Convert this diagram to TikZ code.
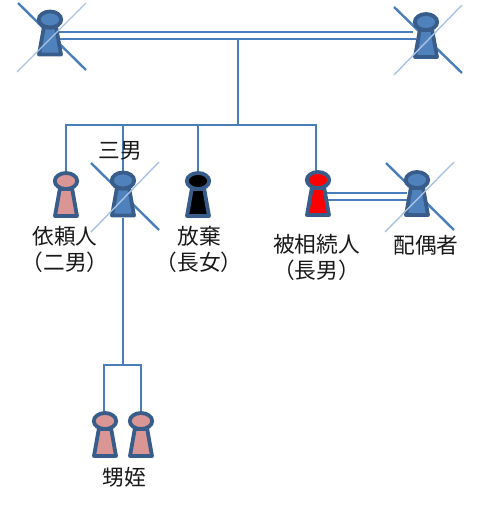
\documentclass[tikz,border=0pt]{standalone}
\usepackage{fontspec}
\setmainfont{Noto Sans CJK JP}
\definecolor{linkblue}{HTML}{4A7EBB}
\definecolor{strokeblue}{HTML}{385D8A}
\definecolor{fillblue}{HTML}{4F81BD}
\definecolor{lightcross}{HTML}{A7C2E4}
\definecolor{pinkfill}{HTML}{D99694}
\tikzset{
  link/.style={draw=linkblue,line width=2.4pt},
  crossdark/.style={draw=linkblue,line width=2.4pt},
  crosslight/.style={draw=lightcross,line width=1.4pt},
  label/.style={inner sep=0pt,font=\fontsize{21.7}{26}\selectfont,text=black!90,align=center},
  anchorbox/.style={minimum width=25pt,minimum height=46pt,inner sep=0pt,outer sep=0pt},
  pics/keyhole/.style={code={
    \draw[draw=strokeblue,fill=#1,line width=3.8pt,line join=round]
      (-6.2,-6) -- (6.2,-6) -- (11,21) -- (-11,21) -- cycle;
    \draw[draw=strokeblue,fill=#1,line width=3.8pt] (0,-14) ellipse (11.2pt and 8pt);
  }}
}
\begin{document}
\begin{tikzpicture}[x=1pt,y=-1pt]
\useasboundingbox (0,0) rectangle (492,507);
% person anchors
\node[anchorbox] (gf) at (50,33.5) {};
\node[anchorbox] (gm) at (426,36) {};
\node[anchorbox] (ch2) at (66,195) {};
\node[anchorbox] (ch3) at (123,194.5) {};
\node[anchorbox] (ch1) at (198,195) {};
\node[anchorbox] (dec) at (318,194) {};
\node[anchorbox] (sp) at (417,194) {};
\node[anchorbox] (ne) at (105,435) {};
\node[anchorbox] (ni) at (141,435) {};
% junctions
\coordinate (jtop) at (238,39);
\coordinate (jmid) at (238,125);
\coordinate (jl) at (66,125);
\coordinate (j3) at (123,125);
\coordinate (j1) at (198,123.5);
\coordinate (jr) at (316,125);
\coordinate (jn) at (123,365);
\coordinate (jnl) at (104,365);
\coordinate (jnr) at (141,365);
% connectors
\draw[link] (57,32) -- (413,32);
\draw[link] (60,39) -- (416,39);
\draw[link] (jtop) -- (jmid);
\draw[link] (jl |- 0,172) -- (jl) -- (jr) -- (jr |- 0,172);
\draw[link] (j3) -- (j3 |- 0,172);
\draw[link] (j1) -- (j1 |- 0,172);
\draw[link] (ch3.south) -- (jn);
\draw[link] (jnl |- 0,413) -- (jnl) -- (jnr) -- (jnr |- 0,413);
\draw[link] (326,193) -- (407,193);
\draw[link] (327,200) -- (407,200);
% dark crossing strokes go under the figures
\draw[crossdark] (18,3) -- (86,70);
\draw[crossdark] (394,7) -- (462,73);
\draw[crossdark] (91,163) -- (159,230);
\draw[crossdark] (386,163) -- (454,230);
% figures
\pic at (gf) {keyhole=fillblue};
\pic at (gm) {keyhole=fillblue};
\pic at (ch2) {keyhole=pinkfill};
\pic at (ch3) {keyhole=fillblue};
\pic at (ch1) {keyhole=black};
\pic at (dec) {keyhole=red};
\pic at (sp) {keyhole=fillblue};
\pic at (ne) {keyhole=pinkfill};
\pic at (ni) {keyhole=pinkfill};
% light crossing strokes lie over the figures
\draw[crosslight] (86,3) -- (17,72);
\draw[crosslight] (462,5) -- (394,75);
\draw[crosslight] (159,162) -- (91,232);
\draw[crosslight] (454,162) -- (385,232);
% labels
\node[label] (t3) at (120.5,151) {三男};
\node[label] (t2) at (65,249) {依頼人\\（二男）};
\node[label] (t1) at (199,249) {放棄\\（長女）};
\node[label] (td) at (316.5,257) {被相続人\\（長男）};
\node[label] (ts) at (426,245) {配偶者};
\node[label] (tn) at (124.5,477) {甥姪};
\end{tikzpicture}
\end{document}
